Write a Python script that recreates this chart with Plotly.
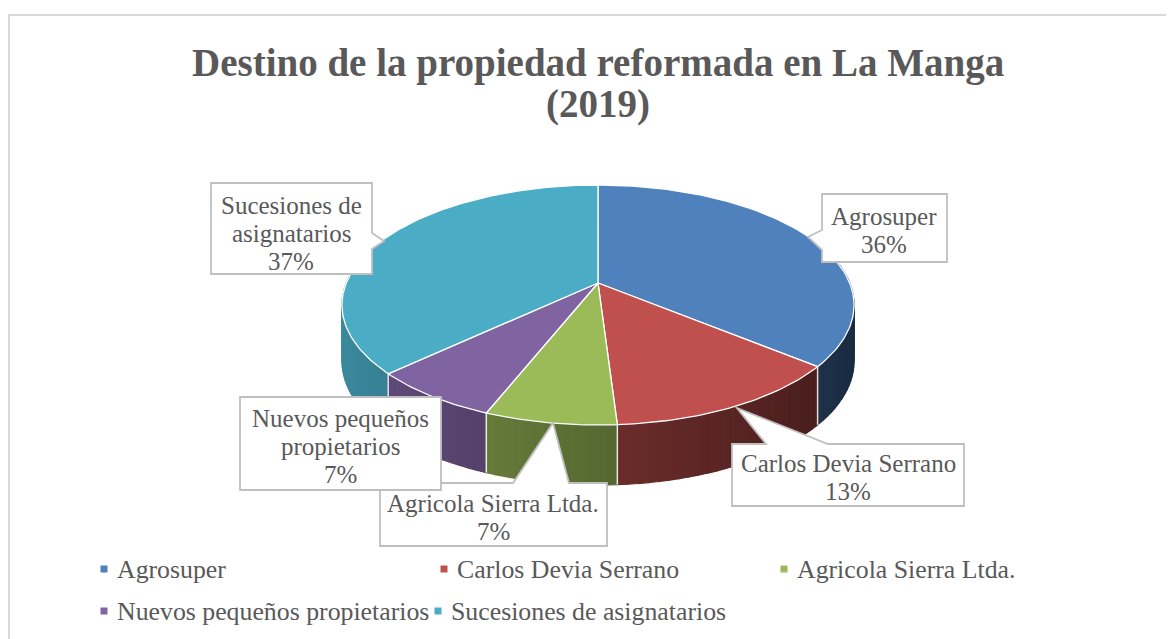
import math
import plotly.graph_objects as go

# ---------------- data ----------------
categories = ["Agrosuper", "Carlos Devia Serrano", "Agricola Sierra Ltda.",
              "Nuevos pequeños propietarios", "Sucesiones de asignatarios"]
values = [36, 13, 7, 7, 37]
label_lines = [["Agrosuper"], ["Carlos Devia Serrano"], ["Agricola Sierra Ltda."],
               ["Nuevos pequeños", "propietarios"], ["Sucesiones de", "asignatarios"]]
colors = ["#4F81BD", "#C0504D", "#9BBB59", "#8064A2", "#4BACC6"]
title_lines = ["Destino de la propiedad reformada en La Manga", "(2019)"]

# ---------------- geometry / style ----------------
W, H = 1174, 639
OFF = 8                    # page body margin -> shift so data coords = screen px
CX, CY = 598, 283          # projected pie centre (px)
R = 251.7                  # horizontal radius
A = 64.1                   # vertical projective coefficient
C = -0.1833                # perspective coefficient
FONT = "Liberation Serif"
TXT = "#595959"
LSZ = 25


def proj(theta, drop=False):
    t = math.radians(theta)
    u, v = math.sin(t), -math.cos(t)
    s = 1.0 / (1.0 + C * v)
    x = CX + R * u * s
    y = (A * v + CY) * s
    if drop:
        y += 50 + 10 * (v + 1) / 2
    return x, y


def shade(hexcol, f):
    h = hexcol.lstrip("#")
    r, g, b = (int(h[i:i + 2], 16) for i in (0, 2, 4))
    return "rgb(%d,%d,%d)" % (r * f, g * f, b * f)


total = sum(values)
bounds = [0.0]
for val in values:
    bounds.append(bounds[-1] + 360.0 * val / total)

fig = go.Figure()

# ---- side walls (segments, back to front) ----
segs = []
for i, col in enumerate(colors):
    a0, a1 = bounds[i], bounds[i + 1]
    n = max(2, int(math.ceil((a1 - a0) / 2.0)))
    for k in range(n):
        ta = a0 + (a1 - a0) * k / n
        tb = a0 + (a1 - a0) * (k + 1) / n
        tm = (ta + tb) / 2
        vm = -math.cos(math.radians(tm))
        if vm < -0.4:
            continue
        um = math.sin(math.radians(tm))
        f = max(0.3, min(0.85, 0.57 - 0.24 * um))
        segs.append((vm, ta, tb, shade(col, f)))
segs.sort(key=lambda s: s[0])
for vm, ta, tb, c in segs:
    p1, p2 = proj(ta), proj(tb)
    p3, p4 = proj(tb, True), proj(ta, True)
    fig.add_trace(go.Scatter(
        x=[p1[0], p2[0], p3[0], p4[0], p1[0]],
        y=[p1[1], p2[1], p3[1], p4[1], p1[1]],
        mode="lines", fill="toself", fillcolor=c,
        line=dict(color=c, width=1.2), hoverinfo="skip", showlegend=False))

# white vertical edges between front walls
for b in bounds[1:-1]:
    if -math.cos(math.radians(b)) > 0.1:
        p, q = proj(b), proj(b, True)
        fig.add_trace(go.Scatter(x=[p[0], q[0]], y=[p[1], q[1]], mode="lines",
                                 line=dict(color="rgba(255,255,255,0.85)", width=1.5),
                                 hoverinfo="skip", showlegend=False))

# ---- top faces ----
for i, (cat, col) in enumerate(zip(categories, colors)):
    a0, a1 = bounds[i], bounds[i + 1]
    n = max(4, int((a1 - a0) / 1.0))
    xs, ys = [CX], [CY]
    for k in range(n + 1):
        px, py = proj(a0 + (a1 - a0) * k / n)
        xs.append(px)
        ys.append(py)
    xs.append(CX)
    ys.append(CY)
    fig.add_trace(go.Scatter(x=xs, y=ys, mode="lines", fill="toself",
                             fillcolor=col, line=dict(color="white", width=1.3),
                             name=cat, hoverinfo="skip", showlegend=False))

# ---------------- callouts ----------------
callout_paths = [
    "M 822,194 L 947,194 L 947,262 L 822,262 L 822,250 L 808,237 L 822,230 Z",
    "M 732,444 L 766,444 L 737,408 L 828,444 L 964,444 L 964,506 L 732,506 Z",
    "M 380,483 L 513,483 L 553,423 L 569,483 L 607,483 L 607,546 L 380,546 Z",
    "M 240,397 L 441,397 L 441,490 L 240,490 Z",
    "M 211,183 L 372,183 L 372,233 L 384,241 L 372,249 L 372,274 L 211,274 Z",
]
label_first_y = [(884, 216), (848, 463), (493, 503), (340, 418), (291, 205)]
LINE_GAP = 28

shapes = [dict(type="rect", xref="x", yref="y", x0=9, x1=1300,
               y0=15, y1=800, line=dict(color="#D9D9D9", width=2),
               layer="below")]
for pth in callout_paths:
    shapes.append(dict(type="path", path=pth, xref="x", yref="y",
                       fillcolor="white", line=dict(color="#BFBFBF", width=1.8),
                       layer="above"))

annotations = []
for i, ((lx, ly), lines) in enumerate(zip(label_first_y, label_lines)):
    pct = "%d%%" % round(100.0 * values[i] / total)
    for j, txt in enumerate(lines + [pct]):
        annotations.append(dict(x=lx, y=ly + j * LINE_GAP, xref="x", yref="y",
                                text=txt, showarrow=False, align="center",
                                font=dict(family=FONT, size=LSZ, color=TXT)))

# title
annotations.append(dict(x=598, y=63, xref="x", yref="y", text="<b>%s</b>" % title_lines[0],
                        showarrow=False, font=dict(family=FONT, size=39, color=TXT)))
annotations.append(dict(x=598, y=104, xref="x", yref="y", text="<b>%s</b>" % title_lines[1],
                        showarrow=False, font=dict(family=FONT, size=39, color=TXT)))

# legend (manual)
leg_pos = [(104, 569), (444, 569), (784, 569), (104, 611), (438, 611)]
for (lx, ly), cat, col in zip(leg_pos, categories, colors):
    shapes.append(dict(type="rect", xref="x", yref="y", x0=lx - 3.5, x1=lx + 3.5,
                       y0=ly - 3.5, y1=ly + 3.5, fillcolor=col, line=dict(width=0)))
    annotations.append(dict(x=lx + 11, y=ly, xref="x", yref="y", text=cat,
                            xanchor="left", showarrow=False,
                            font=dict(family=FONT, size=25.8, color=TXT)))

fig.update_layout(
    width=W, height=H, margin=dict(l=0, r=0, t=0, b=0),
    paper_bgcolor="white", plot_bgcolor="white",
    xaxis=dict(range=[OFF, W + OFF], visible=False, fixedrange=True),
    yaxis=dict(range=[H + OFF, OFF], visible=False, fixedrange=True),
    shapes=shapes, annotations=annotations, showlegend=False,
)

fig.write_html("out.html")
